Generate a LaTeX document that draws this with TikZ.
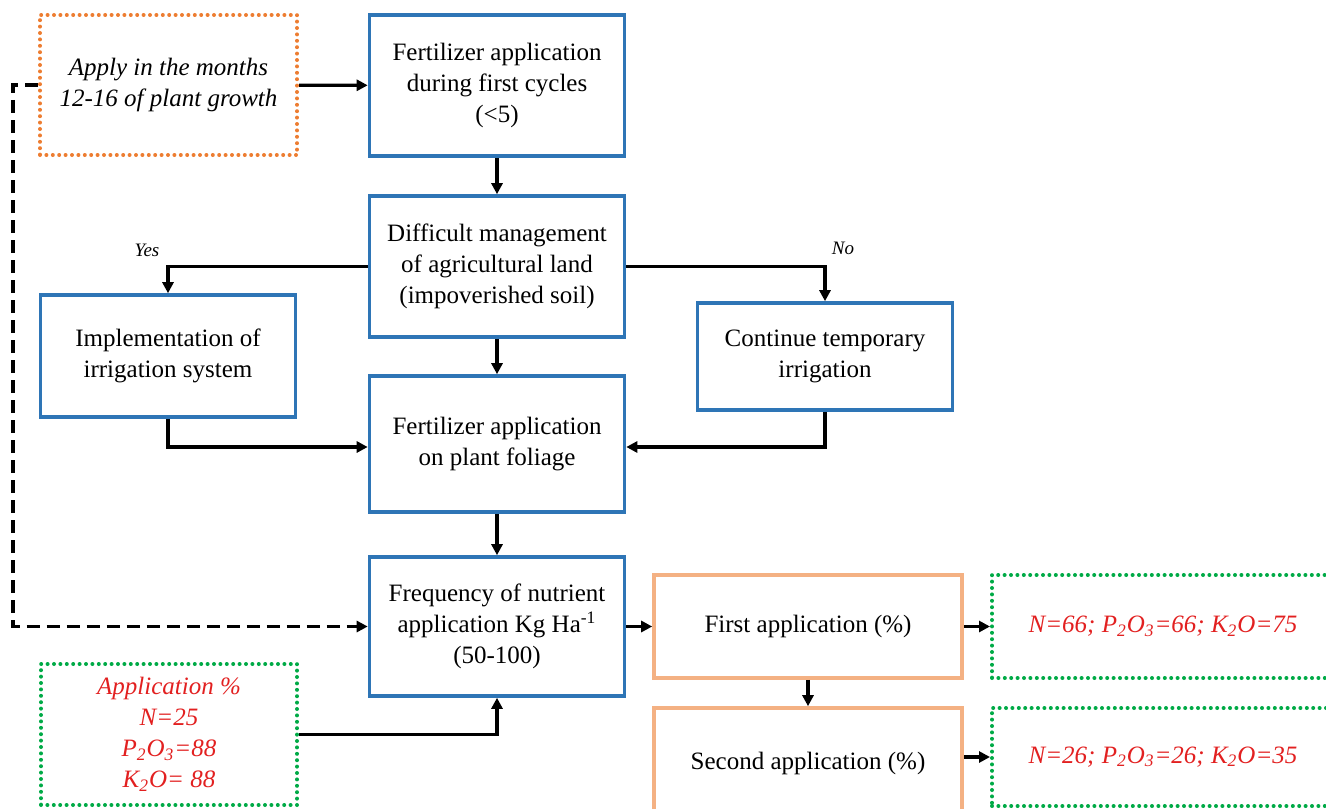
\documentclass[tikz,border=0pt]{standalone}
\usepackage{fontspec}
\setmainfont{Liberation Serif}
\usetikzlibrary{arrows.meta}
\definecolor{boxblue}{RGB}{46,117,182}
\definecolor{dotorange}{RGB}{237,125,49}
\definecolor{peach}{RGB}{244,177,131}
\definecolor{dotgreen}{RGB}{0,170,70}
\definecolor{valred}{RGB}{226,32,32}
\begin{document}
\begin{tikzpicture}[x=0.5pt,y=-0.5pt,
  every node/.style={font=\fontsize{12.5}{15.5}\selectfont,align=center,inner sep=2pt},
  bluebox/.style={draw=boxblue,line width=1.8pt,minimum width=127.5pt},
  peachbox/.style={draw=peach,line width=1.8pt,minimum width=154pt,minimum height=51.5pt},
  dotbox/.style={line width=2pt,line cap=round,dash pattern=on 0pt off 3.2pt},
  val/.style={text=valred,font=\fontsize{12.5}{15.5}\selectfont\itshape},
  arr/.style={line width=1.6pt,-{Triangle[length=5.5pt,width=5.5pt]}},
  tag/.style={font=\fontsize{9.5}{11}\selectfont\itshape}]
\useasboundingbox (0,0) rectangle (1326,808);
\clip (0,0) rectangle (1326,808);
\node[draw=dotorange,dotbox,minimum width=128.5pt,minimum height=70pt,font=\fontsize{12.5}{15.5}\selectfont\itshape] (months) at (168.5,85) {Apply in the months\\12-16 of plant growth};
\node[bluebox,minimum height=70.5pt] (first) at (497,85.5) {Fertilizer application\\during first cycles\\(<5)};
\node[bluebox,minimum height=70.5pt] (manage) at (497,266.5) {Difficult management\\of agricultural land\\(impoverished soil)};
\node[bluebox,minimum height=61pt] (irrig) at (168,356) {Implementation of\\irrigation system};
\node[bluebox,minimum height=53.5pt] (temp) at (825,356.5) {Continue temporary\\irrigation};
\node[bluebox,minimum height=68pt] (foliage) at (497,444) {Fertilizer application\\on plant foliage};
\node[bluebox,minimum height=69.5pt] (freq) at (497,626.5) {Frequency of nutrient\\application Kg Ha\textsuperscript{-1}\\(50-100)};
\node[peachbox] (app1) at (808,626.5) {First application (\%)};
\node[peachbox,minimum height=55pt] (app2) at (808,763) {Second application (\%)};
\node[draw=dotgreen,dotbox,val,minimum width=171pt,minimum height=51.5pt] (res1) at (1163,626.5) {N=66; P\textsubscript{2}O\textsubscript{3}=66; K\textsubscript{2}O=75};
\node[draw=dotgreen,dotbox,val,minimum width=171pt,minimum height=49pt] (res2) at (1163,757) {N=26; P\textsubscript{2}O\textsubscript{3}=26; K\textsubscript{2}O=35};
\node[draw=dotgreen,dotbox,val,minimum width=128pt,minimum height=70.5pt] (pct) at (169,734.5) {Application \%\\N=25\\P\textsubscript{2}O\textsubscript{3}=88\\K\textsubscript{2}O= 88};
\node[tag] (yes) at (147,250) {Yes};
\node[tag] (no) at (843,248) {No};
\coordinate (bend) at (13,85);
% connectors
\draw[arr] (months)--(first);
\draw[arr] (first)--(manage);
\draw[arr] (manage.west) -| (irrig.north);
\draw[arr] (manage.east) -| (temp.north);
\draw[arr] (manage)--(foliage);
\draw[arr] (irrig.south) |- ([yshift=-1.5pt]foliage.west);
\draw[arr] (temp.south) |- ([yshift=-1.5pt]foliage.east);
\draw[arr] (foliage)--(freq);
\draw[arr,dash pattern=on 6.5pt off 3.5pt] (months.west) -- (bend) |- (freq.west);
\draw[arr] (pct.east) -| (freq.south);
\draw[arr] (freq)--(app1);
\draw[arr] (app1)--(app2);
\draw[arr] (app1)--(res1);
\draw[arr] (app2.east|-res2.west)--(res2.west);
\end{tikzpicture}
\end{document}
